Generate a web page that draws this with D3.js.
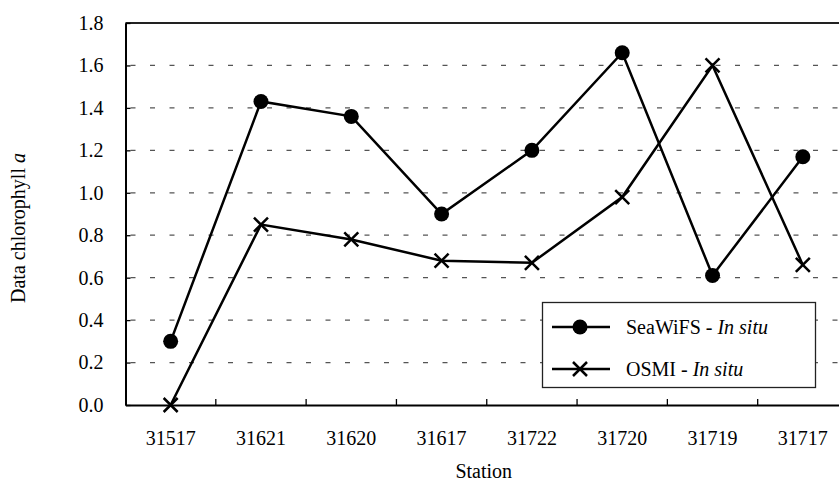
<!DOCTYPE html>
<html>
<head>
<meta charset="utf-8">
<script src="https://cdn.jsdelivr.net/npm/d3@7"></script>
<style>
  html, body { margin: 0; padding: 0; background: #fff; }
  svg { display: block; }
  svg text { font-family: "Liberation Serif", "DejaVu Serif", serif !important; fill: #000; }
</style>
</head>
<body>
<div id="chart"></div>
<script>
const stations = ["31517", "31621", "31620", "31617", "31722", "31720", "31719", "31717"];
const seawifs = [0.30, 1.43, 1.36, 0.90, 1.20, 1.66, 0.61, 1.17];
const osmi = [0.00, 0.85, 0.78, 0.68, 0.67, 0.98, 1.60, 0.66];
const yTicks = [0.0, 0.2, 0.4, 0.6, 0.8, 1.0, 1.2, 1.4, 1.6, 1.8];
const seriesNames = ["SeaWiFS - ", "OSMI - "];

const W = 839, H = 487;
const mLeft = 125.5, mTop = 23, mBottom = 405, mRight = 848;
const FONT = "'Liberation Serif', 'DejaVu Serif', serif";

const svg = d3.select("#chart").append("svg")
  .attr("width", W).attr("height", H)
  .style("font-family", FONT);

const x = d3.scaleBand().domain(stations).range([mLeft, mRight]).padding(0);
const y = d3.scaleLinear().domain([0, 1.8]).range([mBottom, mTop]);
const cx = d => x(d) + x.bandwidth() / 2;

// gridlines
svg.append("g").selectAll("line")
  .data(yTicks.filter(v => v > 0 && v < 1.8))
  .join("line")
  .attr("x1", mLeft + 5).attr("x2", mRight)
  .attr("y1", d => y(d)).attr("y2", d => y(d))
  .attr("stroke", "#555").attr("stroke-width", 1.3)
  .attr("stroke-dasharray", "5,14.5");

// top border
svg.append("line").attr("x1", mLeft).attr("x2", mRight)
  .attr("y1", mTop).attr("y2", mTop)
  .attr("stroke", "#222").attr("stroke-width", 2);

// y axis
const yAxis = d3.axisLeft(y).tickValues(yTicks).tickFormat(d3.format(".1f"))
  .tickSizeInner(-5).tickSizeOuter(0).tickPadding(22);
const gy = svg.append("g").attr("transform", `translate(${mLeft},0)`).call(yAxis)
  .attr("font-family", null).attr("font-size", null);
gy.select(".domain").attr("stroke", "#000").attr("stroke-width", 2);
gy.selectAll(".tick line").attr("stroke", "#000").attr("stroke-width", 1.3);
gy.selectAll(".tick text").style("font-size", "20px").style("font-family", FONT).attr("fill", "#000");

// x axis
const xAxis = d3.axisBottom(x).tickSize(0).tickPadding(26);
const gx = svg.append("g").attr("transform", `translate(0,${mBottom})`).call(xAxis)
  .attr("font-family", null).attr("font-size", null);
gx.select(".domain").attr("stroke", "#000").attr("stroke-width", 2);
gx.selectAll(".tick text").style("font-size", "20px").style("font-family", FONT).attr("fill", "#000");
// category separator ticks (inside)
svg.append("g").selectAll("line")
  .data(stations.slice(1))
  .join("line")
  .attr("x1", d => x(d)).attr("x2", d => x(d))
  .attr("y1", mBottom).attr("y2", mBottom - 6)
  .attr("stroke", "#000").attr("stroke-width", 1.3);

// axis titles
svg.append("text").attr("x", (mLeft + mRight) / 2 - 3).attr("y", 478)
  .attr("text-anchor", "middle").style("font-size", "20px").style("font-family", FONT).text("Station");
const yl = svg.append("text")
  .attr("transform", "translate(25,228) rotate(-90)")
  .attr("text-anchor", "middle").style("font-size", "20px").style("font-family", FONT);
yl.append("tspan").text("Data chlorophyll ");
yl.append("tspan").attr("font-style", "italic").text("a");

// lines
const line = d3.line().x((d, i) => cx(stations[i])).y(d => y(d));
svg.append("path").datum(seawifs).attr("d", line)
  .attr("fill", "none").attr("stroke", "#000").attr("stroke-width", 2.5);
svg.append("path").datum(osmi).attr("d", line)
  .attr("fill", "none").attr("stroke", "#000").attr("stroke-width", 2.5);

// markers
svg.append("g").selectAll("circle").data(seawifs).join("circle")
  .attr("cx", (d, i) => cx(stations[i])).attr("cy", d => y(d))
  .attr("r", 7.5).attr("fill", "#000");

function cross(g, px, py, s) {
  g.append("path")
    .attr("d", `M${px - s},${py - s}L${px + s},${py + s}M${px - s},${py + s}L${px + s},${py - s}`)
    .attr("stroke", "#000").attr("stroke-width", 2.5).attr("fill", "none");
}
const gc = svg.append("g");
osmi.forEach((d, i) => cross(gc, cx(stations[i]), y(d), 7));

// legend
const lg = svg.append("g");
lg.append("rect").attr("x", 542.5).attr("y", 302.5).attr("width", 273).attr("height", 85)
  .attr("fill", "#fff").attr("stroke", "#222").attr("stroke-width", 1.3);
const rows = [327, 369];
rows.forEach((ry, i) => {
  lg.append("line").attr("x1", 552).attr("x2", 610).attr("y1", ry).attr("y2", ry)
    .attr("stroke", "#000").attr("stroke-width", 2.5);
  if (i === 0) {
    lg.append("circle").attr("cx", 580).attr("cy", ry).attr("r", 7.5).attr("fill", "#000");
  } else {
    cross(lg, 580, ry, 7);
  }
  const t = lg.append("text").attr("x", 626).attr("y", ry + 7)
    .style("font-size", "20px").style("font-family", FONT);
  t.append("tspan").text(seriesNames[i]);
  t.append("tspan").attr("font-style", "italic").text("In situ");
});
</script>
</body>
</html>
